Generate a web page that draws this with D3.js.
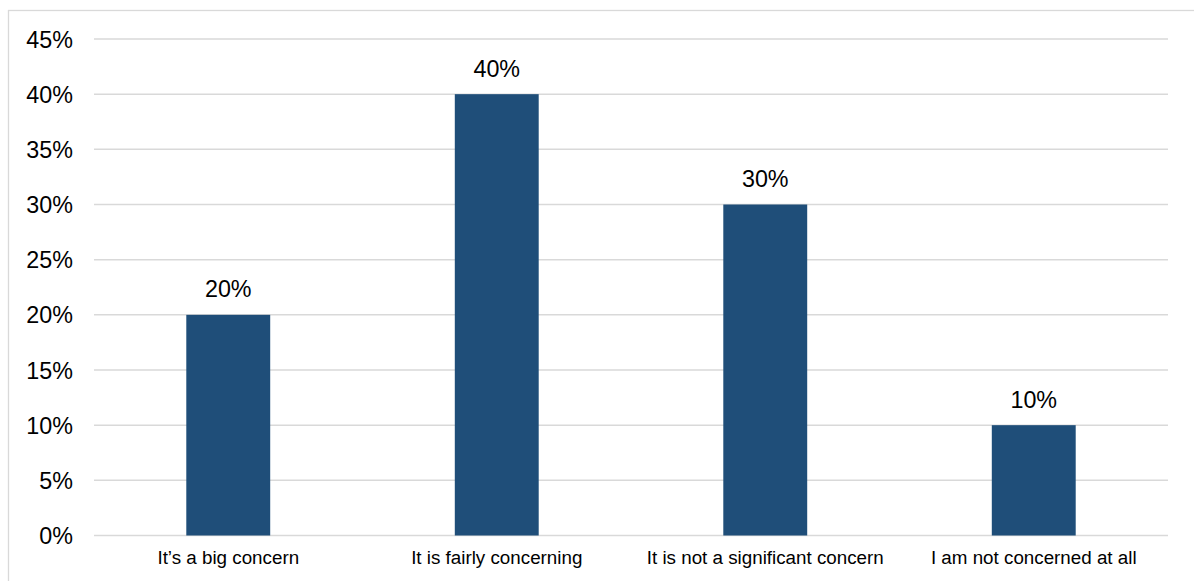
<!DOCTYPE html>
<html><head><meta charset="utf-8">
<script src="https://cdn.jsdelivr.net/npm/d3@7"></script>
<style>body{margin:0;background:#fff}svg{display:block}text{font-family:"Liberation Sans",Arial,sans-serif}</style>
</head><body>
<svg id="c" width="1194" height="581"></svg>
<script>
const categories = ["It\u2019s a big concern","It is fairly concerning","It is not a significant concern","I am not concerned at all"];
const values = [0.20,0.40,0.30,0.10];
const yTicks = [0,0.05,0.10,0.15,0.20,0.25,0.30,0.35,0.40,0.45];

const svg = d3.select("#c");
svg.append("rect").attr("x",8.5).attr("y",10.5).attr("width",1200).attr("height",600)
  .attr("fill","none").attr("stroke","#d9d9d9").attr("stroke-width",1.3);

const x = d3.scaleBand().domain(categories).range([94,1168]).paddingInner(0.6875).paddingOuter(0.34375);
const y = d3.scaleLinear().domain([0,0.45]).range([535.5,39]);

const g = svg.append("g");
g.selectAll("line.grid").data(yTicks).enter().append("line")
  .attr("x1",94).attr("x2",1168).attr("y1",d=>y(d)).attr("y2",d=>y(d))
  .attr("stroke","#d9d9d9").attr("stroke-width",1.5);

const yAxis = d3.axisLeft(y).tickValues(yTicks).tickFormat(d3.format(".0%")).tickSize(0).tickPadding(0);
const ya = svg.append("g").attr("transform","translate(73,0)").call(yAxis);
ya.select(".domain").remove();
ya.selectAll("text").attr("font-size",23.3).attr("fill","#000").attr("font-family","Liberation Sans, Arial, sans-serif").attr("dy","0.35em");

g.selectAll("rect.bar").data(values).enter().append("rect")
  .attr("x",(d,i)=>x(categories[i])).attr("width",x.bandwidth())
  .attr("y",d=>y(d)).attr("height",d=>y(0)-y(d)).attr("fill","#1f4e79");

g.selectAll("text.lbl").data(values).enter().append("text")
  .attr("x",(d,i)=>x(categories[i])+x.bandwidth()/2).attr("y",d=>y(d)-17.5)
  .attr("text-anchor","middle").attr("font-size",23.3).attr("fill","#000")
  .text(d=>d3.format(".0%")(d));

const xAxis = d3.axisBottom(x).tickSize(0).tickPadding(0);
const xa = svg.append("g").attr("transform","translate(0,564)").call(xAxis);
xa.select(".domain").remove();
xa.selectAll("text").attr("font-size",18.8).attr("fill","#000").attr("font-family","Liberation Sans, Arial, sans-serif").attr("y",0).attr("dy","0");
</script>
</body></html>
